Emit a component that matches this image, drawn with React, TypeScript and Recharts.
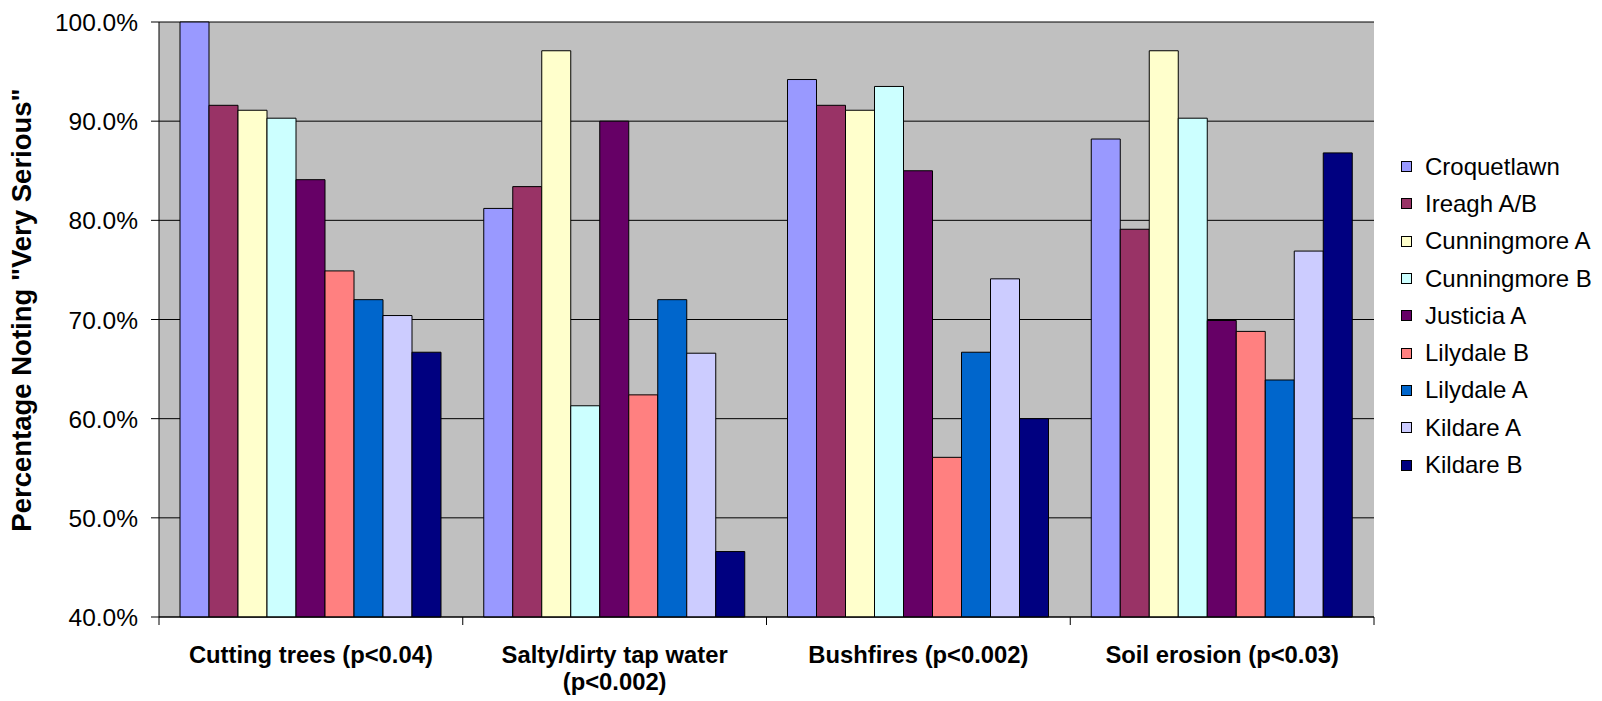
import { Bar, BarChart, CartesianGrid, XAxis, YAxis } from "recharts";

const categories = [
  "Cutting trees (p<0.04)",
  "Salty/dirty tap water (p<0.002)",
  "Bushfires (p<0.002)",
  "Soil erosion (p<0.03)",
];

const croquetlawn = [100, 81.2, 94.2, 88.2];
const ireagh = [91.6, 83.4, 91.6, 79.1];
const cunningmoreA = [91.1, 97.1, 91.1, 97.1];
const cunningmoreB = [90.3, 61.3, 93.5, 90.3];
const justiciaA = [84.1, 90.0, 85.0, 69.9];
const lilydaleB = [74.9, 62.4, 56.1, 68.8];
const lilydaleA = [72.0, 72.0, 66.7, 63.9];
const kildareA = [70.4, 66.6, 74.1, 76.9];
const kildareB = [66.7, 46.6, 60.0, 86.8];

const yTicks = [40, 50, 60, 70, 80, 90, 100];

const series = [
  { key: "croquetlawn", name: "Croquetlawn", values: croquetlawn, color: "#9999FF" },
  { key: "ireagh", name: "Ireagh A/B", values: ireagh, color: "#993366" },
  { key: "cunningmoreA", name: "Cunningmore A", values: cunningmoreA, color: "#FFFFCC" },
  { key: "cunningmoreB", name: "Cunningmore B", values: cunningmoreB, color: "#CCFFFF" },
  { key: "justiciaA", name: "Justicia A", values: justiciaA, color: "#660066" },
  { key: "lilydaleB", name: "Lilydale B", values: lilydaleB, color: "#FF8080" },
  { key: "lilydaleA", name: "Lilydale A", values: lilydaleA, color: "#0066CC" },
  { key: "kildareA", name: "Kildare A", values: kildareA, color: "#CCCCFF" },
  { key: "kildareB", name: "Kildare B", values: kildareB, color: "#000080" },
];

const data = categories.map((name, i) => {
  const row: Record<string, string | number> = { name };
  series.forEach((s) => (row[s.key] = s.values[i]));
  return row;
});

const FONT = "'Liberation Sans', Arial, sans-serif";
const W = 1602;
const H = 701;
const xAxisHeight = 84;
const margin = { top: 22, right: 228, bottom: 0, left: 0 };
const yAxisWidth = 159;
const band = (W - margin.left - margin.right - yAxisWidth) / categories.length;

function CategoryTick(props: any) {
  const { x, y, payload, index } = props;
  const label: string = payload.value;
  const cut = label.lastIndexOf(" (");
  const lines = label.length > 24 ? [label.slice(0, cut), label.slice(cut + 1)] : [label];
  const axisY = y - 10;
  return (
    <g>
      <line x1={x - band / 2} x2={x - band / 2} y1={axisY} y2={axisY + 8} stroke="#000" />
      {index === categories.length - 1 && (
        <line x1={x + band / 2} x2={x + band / 2} y1={axisY} y2={axisY + 8} stroke="#000" />
      )}
      <text x={x} y={axisY + 46} textAnchor="middle" fontFamily={FONT} fontSize={23.8} fontWeight="bold" fill="#000">
        {lines.map((l, i) => (
          <tspan key={i} x={x} dy={i === 0 ? 0 : 27}>
            {l}
          </tspan>
        ))}
      </text>
    </g>
  );
}

function PercentTick(props: any) {
  const { x, y, payload } = props;
  return (
    <text x={x} y={y} dy={9} textAnchor="end" fontFamily={FONT} fontSize={24.5} fill="#000">
      {Number(payload.value).toFixed(1) + "%"}
    </text>
  );
}

function SeriesLegend() {
  return (
    <div style={{ position: "absolute", left: 1401, top: 148, fontFamily: FONT, fontSize: 24, color: "#000" }}>
      {series.map((s) => (
        <div key={s.key} style={{ display: "flex", alignItems: "center", height: 37.3, whiteSpace: "nowrap" }}>
          <span
            style={{
              width: 9,
              height: 9,
              background: s.color,
              border: "1px solid #000",
              marginRight: 13,
              display: "inline-block",
            }}
          />
          {s.name}
        </div>
      ))}
    </div>
  );
}

export default function App() {
  return (
    <div style={{ position: "absolute", left: 0, top: 0, width: W, height: H, background: "#fff" }}>
      <BarChart width={W} height={H} data={data} margin={margin} barCategoryGap={21} barGap={0}>
        <CartesianGrid vertical={false} fill="#C0C0C0" stroke="#000" fillOpacity={1} />
        <XAxis
          dataKey="name"
          axisLine={{ stroke: "#000" }}
          tickLine={false}
          tickSize={8}
          tickMargin={2}
          interval={0}
          tick={<CategoryTick />}
          height={xAxisHeight}
        />
        <YAxis
          width={yAxisWidth}
          domain={[40, 100]}
          ticks={yTicks}
          interval={0}
          axisLine={{ stroke: "#000" }}
          tickLine={{ stroke: "#000" }}
          tickSize={8}
          tickMargin={13}
          tick={<PercentTick />}
          label={{
            value: 'Percentage Noting "Very Serious"',
            content: () => (
              <text
                x={31}
                y={310}
                transform="rotate(-90 31 310)"
                textAnchor="middle"
                fontFamily={FONT}
                fontSize={27.5}
                fontWeight="bold"
                fill="#000"
              >
                Percentage Noting "Very Serious"
              </text>
            ),
          }}
        />
        {series.map((s) => (
          <Bar
            key={s.key}
            dataKey={s.key}
            name={s.name}
            fill={s.color}
            stroke="#000"
            strokeWidth={1}
            isAnimationActive={false}
          />
        ))}
      </BarChart>
      <SeriesLegend />
    </div>
  );
}
